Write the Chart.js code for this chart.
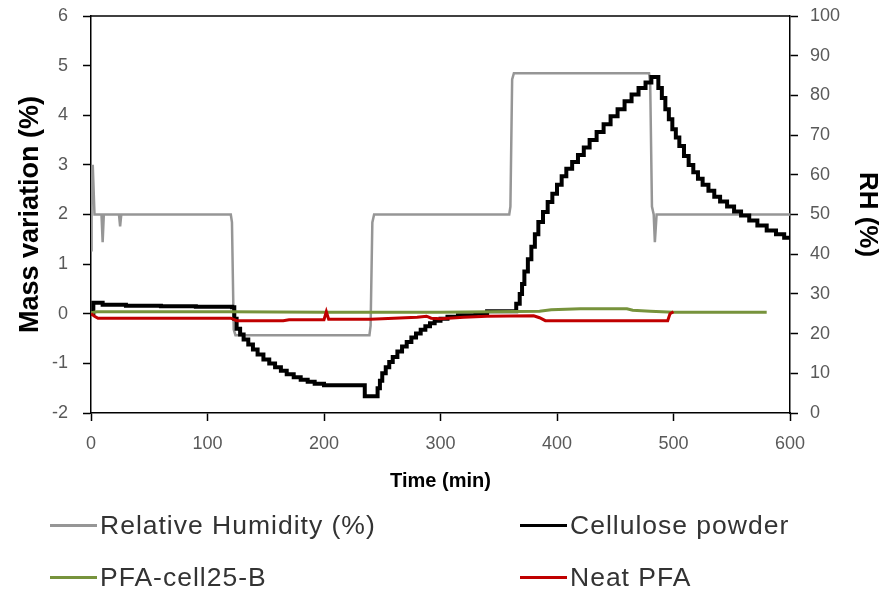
<!DOCTYPE html>
<html>
<head>
<meta charset="utf-8">
<script src="https://cdn.jsdelivr.net/npm/chart.js@4.4.1/dist/chart.umd.min.js"></script>
<style>
  html, body { margin: 0; padding: 0; background: #fff; }
  #wrap { position: relative; width: 884px; height: 594px; }
  #legend { position: absolute; left: 0; top: 0; width: 884px; height: 594px; pointer-events: none;
            font-family: 'Liberation Sans', sans-serif; font-size: 26.5px; letter-spacing: 1px; color: #333; }
  .item { position: absolute; display: flex; align-items: center; white-space: nowrap; }
  .mark { width: 47px; height: 3px; margin-right: 3px; }
</style>
</head>
<body>
<div id="wrap">
  <canvas id="chart" width="884" height="594"></canvas>
  <div id="legend"></div>
</div>
<script>
// Données (temps en min)
const rhTime = [0, 0.5, 1.5, 3, 9, 10, 11, 24, 25, 26, 120, 121, 122.5, 124, 239, 240, 241.5, 243, 359, 360, 361.5, 363, 479, 480, 481.5, 483, 484, 485.5, 487, 600];
const rhValue = [41, 55, 62.5, 50, 50, 43, 50, 50, 47, 50, 50, 48, 21, 19.6, 19.6, 22, 48, 50, 50, 52, 84, 85.6, 85.6, 83, 52, 50, 43, 50, 50, 50];

const celluloseTime = [0, 2, 8, 10, 30, 60, 90, 121, 123, 125, 128, 131, 135, 139, 143, 148, 153, 158, 163, 168, 174, 180, 186, 192, 200, 233, 235, 244, 246, 248, 250, 253, 256, 259, 263, 267, 271, 275, 279, 283, 287, 291, 295, 300, 306, 315, 330, 340, 362, 365, 368, 370, 372, 375, 378, 381, 384, 388, 392, 396, 400, 404, 408, 413, 418, 423, 428, 434, 440, 446, 452, 458, 464, 470, 476, 481, 484, 487, 490, 493, 496, 499, 502, 505, 509, 513, 517, 521, 525, 530, 535, 540, 546, 552, 558, 565, 572, 580, 588, 595, 600];
const celluloseValue = [0, 0.22, 0.22, 0.18, 0.16, 0.15, 0.14, 0.13, -0.1, -0.3, -0.42, -0.52, -0.62, -0.72, -0.82, -0.92, -1.0, -1.08, -1.15, -1.22, -1.28, -1.33, -1.37, -1.41, -1.44, -1.44, -1.66, -1.66, -1.5, -1.35, -1.2, -1.08, -0.97, -0.87, -0.76, -0.66, -0.57, -0.48, -0.4, -0.32, -0.25, -0.19, -0.14, -0.1, -0.06, -0.03, 0.0, 0.05, 0.05, 0.2, 0.4, 0.6, 0.85, 1.1, 1.35, 1.6, 1.85, 2.05, 2.25, 2.42, 2.6, 2.77, 2.92, 3.06, 3.2, 3.35, 3.5, 3.66, 3.82, 3.98, 4.12, 4.28, 4.42, 4.55, 4.66, 4.77, 4.77, 4.55, 4.35, 4.12, 3.92, 3.72, 3.55, 3.38, 3.18, 3.0, 2.85, 2.72, 2.6, 2.48, 2.36, 2.26, 2.16, 2.06, 1.98, 1.88, 1.78, 1.68, 1.6, 1.53, 1.49];

const pfaCellTime = [0, 5, 120, 200, 300, 385, 395, 420, 460, 465, 480, 500, 580];
const pfaCellValue = [0.02, 0.04, 0.04, 0.03, 0.03, 0.05, 0.08, 0.1, 0.1, 0.07, 0.05, 0.03, 0.03];

const neatPfaTime = [0, 3, 6, 120, 125, 165, 170, 200, 202, 204, 240, 260, 280, 288, 292, 300, 320, 340, 380, 385, 390, 495, 497, 500];
const neatPfaValue = [0.0, -0.05, -0.09, -0.09, -0.14, -0.14, -0.12, -0.12, 0.04, -0.11, -0.11, -0.09, -0.07, -0.05, -0.09, -0.1, -0.07, -0.05, -0.04, -0.08, -0.14, -0.14, 0.0, 0.04];

const leftTicks = [-2, -1, 0, 1, 2, 3, 4, 5, 6];
const rightTicks = [0, 10, 20, 30, 40, 50, 60, 70, 80, 90, 100];
const timeTicks = [0, 100, 200, 300, 400, 500, 600];

const legendItems = [
  { label: 'Relative Humidity (%)', color: '#969696', x: 50, y: 527 },
  { label: 'Cellulose powder', color: '#000000', x: 520, y: 527 },
  { label: 'PFA-cell25-B', color: '#77933c', x: 50, y: 579 },
  { label: 'Neat PFA', color: '#c00000', x: 520, y: 579 },
];

function toPoints(xs, ys) {
  return xs.map((x, i) => ({ x, y: ys[i] }));
}

// Cadre du graphique
const frame = {
  id: 'frame',
  beforeDatasetsDraw(chart) {
    const { ctx, chartArea: a } = chart;
    ctx.save();
    ctx.strokeStyle = '#000';
    ctx.lineWidth = 1.5;
    ctx.beginPath();
    ctx.moveTo(a.left, a.top);
    ctx.lineTo(a.right, a.top);
    ctx.stroke();
    ctx.restore();
  },
};

// Taille fixe des axes, sans marge ajoutée pour les étiquettes
function fixVertical(width) {
  return (s) => { s.width = width; s.paddingTop = 0; s.paddingBottom = 0; };
}

const tickFont = { family: "'Liberation Sans', sans-serif", size: 18 };
const titleFont = { family: "'Liberation Sans', sans-serif", size: 27, weight: 'bold' };

new Chart(document.getElementById('chart').getContext('2d'), {
  type: 'line',
  data: {
    datasets: [
      { label: 'Neat PFA', data: toPoints(neatPfaTime, neatPfaValue), borderColor: '#c00000', borderWidth: 3, yAxisID: 'y', order: 0 },
      { label: 'PFA-cell25-B', data: toPoints(pfaCellTime, pfaCellValue), borderColor: '#77933c', borderWidth: 3, yAxisID: 'y', order: 1 },
      { label: 'Cellulose powder', data: toPoints(celluloseTime, celluloseValue), borderColor: '#000000', borderWidth: 4, stepped: 'before', yAxisID: 'y', order: 2 },
      { label: 'Relative Humidity (%)', data: toPoints(rhTime, rhValue), borderColor: '#969696', borderWidth: 2.5, yAxisID: 'y1', order: 3 },
    ],
  },
  options: {
    responsive: false,
    animation: false,
    events: [],
    layout: { padding: { top: 16, left: 0, right: 0, bottom: 101 } },
    elements: { point: { radius: 0 }, line: { tension: 0, fill: false } },
    plugins: { legend: { display: false }, tooltip: { enabled: false } },
    scales: {
      x: {
        type: 'linear',
        min: 0,
        max: 600,
        afterFit: (s) => { s.height = 80; s.paddingLeft = 0; s.paddingRight = 0; },
        afterBuildTicks: (s) => { s.ticks = timeTicks.map((v) => ({ value: v })); },
        ticks: { color: '#595959', font: tickFont, padding: 12 },
        grid: { drawOnChartArea: false, tickLength: 8, color: '#000', tickWidth: 1.5 },
        border: { color: '#000', width: 1.5 },
        title: { display: true, text: 'Time (min)', color: '#000', font: { ...titleFont, size: 20 }, padding: { bottom: 0 } },
      },
      y: {
        position: 'left',
        min: -2,
        max: 6,
        afterFit: fixVertical(91),
        afterBuildTicks: (s) => { s.ticks = leftTicks.map((v) => ({ value: v })); },
        ticks: { color: '#595959', font: tickFont, padding: 15 },
        grid: { drawOnChartArea: false, tickLength: 8, color: '#000', tickWidth: 1.5 },
        border: { color: '#000', width: 1.5 },
        title: { display: true, text: 'Mass variation (%)', color: '#000', font: titleFont, padding: { top: 14 } },
      },
      y1: {
        position: 'right',
        min: 0,
        max: 100,
        afterFit: fixVertical(94),
        afterBuildTicks: (s) => { s.ticks = rightTicks.map((v) => ({ value: v })); },
        ticks: { color: '#595959', font: tickFont, padding: 12 },
        grid: { drawOnChartArea: false, tickLength: 8, color: '#000', tickWidth: 1.5 },
        border: { color: '#000', width: 1.5 },
        title: { display: true, text: 'RH (%)', color: '#000', font: { ...titleFont, size: 26 }, padding: { top: 1 } },
      },
    },
  },
  plugins: [frame],
});

// Légende en deux colonnes, sous le graphique
const legend = document.getElementById('legend');
legendItems.forEach((it) => {
  const div = document.createElement('div');
  div.className = 'item';
  div.style.left = it.x + 'px';
  div.style.top = (it.y - 17) + 'px';
  div.innerHTML = `<span class="mark" style="background:${it.color}"></span><span>${it.label}</span>`;
  legend.appendChild(div);
});
</script>
</body>
</html>
